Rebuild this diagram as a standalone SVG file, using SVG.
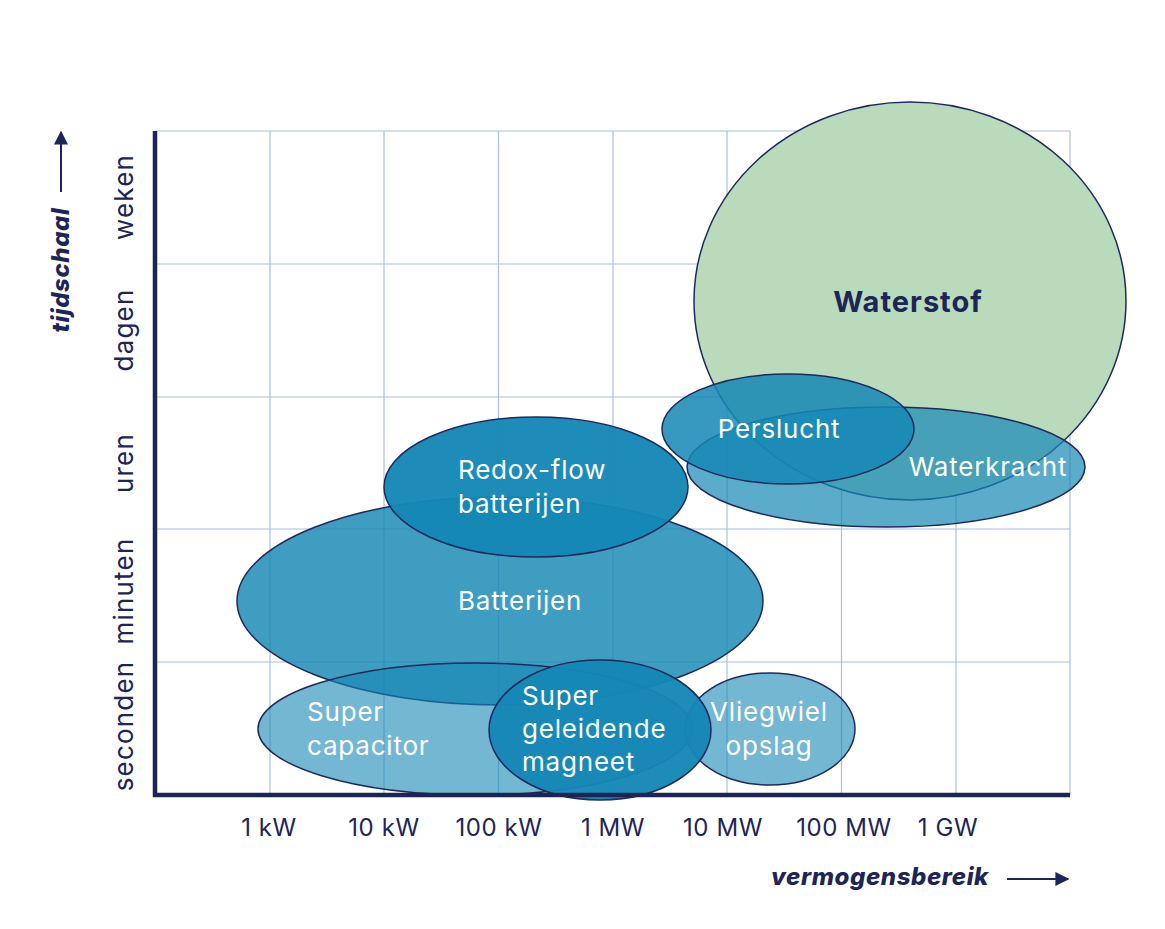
<svg xmlns="http://www.w3.org/2000/svg" width="1165" height="929" viewBox="0 0 1165 929">
<defs>
<style>
.grid line{stroke:#a9c0dc;stroke-width:1.2}
.axis{stroke:#1d2556;stroke-width:4.5;fill:none}
.ax{font-family:Inter,"Open Sans","Liberation Sans",sans-serif;font-size:24px;letter-spacing:0.6px;fill:#1d2556}
.ay{font-family:Inter,"Open Sans","Liberation Sans",sans-serif;font-size:26px;letter-spacing:1.2px;fill:#1d2556}
.ttl{font-family:Inter,"Open Sans","Liberation Sans",sans-serif;font-size:24px;letter-spacing:0.6px;font-weight:800;font-style:italic;fill:#1d2556}
.e{stroke:#1e2a5c;stroke-width:1.5}
.b{fill:#1587b5}
.lbl{font-family:Inter,"Open Sans","Liberation Sans",sans-serif;font-size:26px;letter-spacing:0.8px;fill:#ffffff}
</style>
<marker id="ah" viewBox="0 0 10 10" refX="9" refY="5" markerWidth="7" markerHeight="7" orient="auto"><path d="M0,0 L10,5 L0,10 z" fill="#1d2556"/></marker>
</defs>
<rect width="1165" height="929" fill="#ffffff"/>
<g class="grid">
<line x1="155" y1="131" x2="1070" y2="131"/>
<line x1="155" y1="264" x2="1070" y2="264"/>
<line x1="155" y1="397" x2="1070" y2="397"/>
<line x1="155" y1="529" x2="1070" y2="529"/>
<line x1="155" y1="662" x2="1070" y2="662"/>
<line x1="270" y1="131" x2="270" y2="795"/>
<line x1="384" y1="131" x2="384" y2="795"/>
<line x1="498.5" y1="131" x2="498.5" y2="795"/>
<line x1="613" y1="131" x2="613" y2="795"/>
<line x1="727" y1="131" x2="727" y2="795"/>
<line x1="841.5" y1="131" x2="841.5" y2="795"/>
<line x1="956" y1="131" x2="956" y2="795"/>
<line x1="1070" y1="131" x2="1070" y2="795"/>
</g>
<g id="waterstof">
<ellipse class="e" cx="910" cy="301" rx="216" ry="199" fill="#b9dabb"/>
<text x="908" y="312" text-anchor="middle" style="font-family:Inter,'Open Sans','Liberation Sans',sans-serif;font-size:29px;letter-spacing:1px;font-weight:700;fill:#1d2556">Waterstof</text>
</g>
<g id="waterkracht">
<ellipse class="e b" cx="886" cy="467" rx="199" ry="60" fill-opacity="0.7"/>
</g>
<g id="persluch">
<ellipse class="e b" cx="788" cy="429" rx="126" ry="55" fill-opacity="0.85"/>
<text class="lbl" x="779" y="438" text-anchor="middle">Perslucht</text>
</g>
<g id="waterkracht-label"><text class="lbl" x="988" y="476" text-anchor="middle">Waterkracht</text></g>
<g id="batterijen">
<ellipse class="e b" cx="500" cy="601" rx="263" ry="104" fill-opacity="0.82"/>
<text class="lbl" x="458" y="610">Batterijen</text>
</g>
<g id="supercapacitor">
<ellipse class="e b" cx="475" cy="729" rx="217" ry="66" fill-opacity="0.6"/>
<text class="lbl" x="307" y="721">Super</text>
<text class="lbl" x="307" y="755">capacitor</text>
</g>
<g id="redoxflow">
<ellipse class="e b" cx="536" cy="487" rx="152" ry="70" fill-opacity="0.96"/>
<text class="lbl" x="458" y="479">Redox-flow</text>
<text class="lbl" x="458" y="513">batterijen</text>
</g>
<g id="vliegwiel">
<ellipse class="e b" cx="770" cy="729" rx="85" ry="56" fill-opacity="0.6"/>
<text class="lbl" x="769" y="721" text-anchor="middle">Vliegwiel</text>
<text class="lbl" x="769" y="755" text-anchor="middle">opslag</text>
</g>
<g id="magneet">
<ellipse class="e b" cx="600" cy="730" rx="111" ry="70" fill-opacity="0.96"/>
<text class="lbl" x="522" y="705">Super</text>
<text class="lbl" x="522" y="738">geleidende</text>
<text class="lbl" x="522" y="771">magneet</text>
</g>
<g id="axes">
<line class="axis" x1="155" y1="131" x2="155" y2="797"/>
<line class="axis" x1="153" y1="795" x2="1070" y2="795"/>
</g>
<g id="y-labels" class="ay" text-anchor="middle">
<text transform="translate(133,197) rotate(-90)">weken</text>
<text transform="translate(133,330) rotate(-90)">dagen</text>
<text transform="translate(133,463) rotate(-90)">uren</text>
<text transform="translate(133,591) rotate(-90)">minuten</text>
<text transform="translate(133,726) rotate(-90)">seconden</text>
</g>
<g id="x-labels" class="ax" text-anchor="middle">
<text x="269" y="836">1 kW</text>
<text x="384" y="836">10 kW</text>
<text x="499" y="836">100 kW</text>
<text x="613" y="836">1 MW</text>
<text x="723" y="836">10 MW</text>
<text x="844" y="836">100 MW</text>
<text x="948" y="836">1 GW</text>
</g>
<g id="axis-titles">
<text class="ttl" transform="translate(69,270) rotate(-90)" text-anchor="middle">tijdschaal</text>
<text class="ttl" x="880" y="885" text-anchor="middle">vermogensbereik</text>
</g>
<g id="connectors">
<line x1="61" y1="192" x2="61" y2="132" stroke="#1d2556" stroke-width="2" marker-end="url(#ah)"/>
<line x1="1007" y1="879" x2="1068" y2="879" stroke="#1d2556" stroke-width="2" marker-end="url(#ah)"/>
</g>
</svg>
